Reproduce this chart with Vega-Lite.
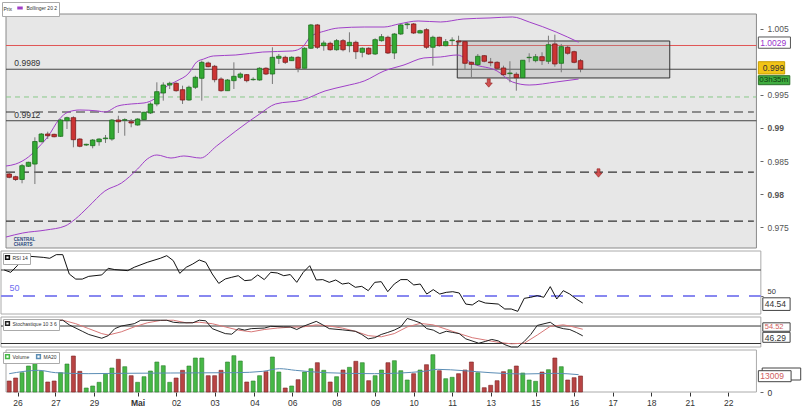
{
"$schema":"https://vega.github.io/schema/vega-lite/v6.json",
"padding":{"left":0,"top":1,"right":0,"bottom":0},
"background":"white",
"spacing":3,
"bounds":"flush",
"config":{
 "font":"Liberation Sans",
 "view":{"stroke":null,"fill":null},
 "axis":{"labelFont":"Liberation Sans","labelFontSize":8.5,"labelColor":"#555","tickColor":"#666","grid":false,"domain":false,"tickSize":3,"labelPadding":4},
 "legend":{"orient":"top-left","offset":2,"direction":"horizontal","labelFont":"Liberation Sans","titleFont":"Liberation Sans","labelFontSize":5,"titleFontSize":5,"titleFontWeight":"normal","labelColor":"#333","titleColor":"#333","symbolType":"square","symbolSize":14,"fillColor":"white","strokeColor":"#aaa","padding":1.5,"rowPadding":0,"columnPadding":4,"labelOffset":2,"titlePadding":3}
},
"datasets":{
 "candles":[
{"i":0,"o":0.98303,"h":0.98329,"l":0.98238,"c":0.98253,"v":8943},
{"i":1,"o":0.98262,"h":0.98277,"l":0.98197,"c":0.98220,"v":11382},
{"i":2,"o":0.98220,"h":0.98454,"l":0.98162,"c":0.98429,"v":15691},
{"i":3,"o":0.98420,"h":0.98489,"l":0.98409,"c":0.98480,"v":21138},
{"i":4,"o":0.98454,"h":0.98859,"l":0.98151,"c":0.98795,"v":26585},
{"i":5,"o":0.98792,"h":0.98924,"l":0.98783,"c":0.98909,"v":16829},
{"i":6,"o":0.98909,"h":0.98944,"l":0.98833,"c":0.98883,"v":8130},
{"i":7,"o":0.98904,"h":0.98914,"l":0.98859,"c":0.98868,"v":8943},
{"i":8,"o":0.98874,"h":0.99136,"l":0.98864,"c":0.99121,"v":15691},
{"i":9,"o":0.99111,"h":0.99171,"l":0.98985,"c":0.99156,"v":22764},
{"i":10,"o":0.99156,"h":0.99177,"l":0.98708,"c":0.98823,"v":29268},
{"i":11,"o":0.98833,"h":0.98844,"l":0.98708,"c":0.98723,"v":16829},
{"i":12,"o":0.98742,"h":0.98762,"l":0.98727,"c":0.98753,"v":3252},
{"i":13,"o":0.98732,"h":0.98833,"l":0.98692,"c":0.98818,"v":4878},
{"i":14,"o":0.98792,"h":0.98844,"l":0.98732,"c":0.98833,"v":7886},
{"i":15,"o":0.98838,"h":0.98894,"l":0.98773,"c":0.98848,"v":14390},
{"i":16,"o":0.98833,"h":0.99136,"l":0.98807,"c":0.99121,"v":19512},
{"i":17,"o":0.99121,"h":0.99186,"l":0.98924,"c":0.99095,"v":26585},
{"i":18,"o":0.99117,"h":0.99147,"l":0.98883,"c":0.99126,"v":20569},
{"i":19,"o":0.99095,"h":0.99136,"l":0.99011,"c":0.99076,"v":13252},
{"i":20,"o":0.99045,"h":0.99147,"l":0.99035,"c":0.99136,"v":7886},
{"i":21,"o":0.99126,"h":0.99247,"l":0.99117,"c":0.99238,"v":12439},
{"i":22,"o":0.99227,"h":0.99389,"l":0.99212,"c":0.99364,"v":17073},
{"i":23,"o":0.99364,"h":0.99692,"l":0.99329,"c":0.99550,"v":24390},
{"i":24,"o":0.99530,"h":0.99692,"l":0.99414,"c":0.99651,"v":21382},
{"i":25,"o":0.99651,"h":0.99701,"l":0.99591,"c":0.99677,"v":7886},
{"i":26,"o":0.99677,"h":0.99692,"l":0.99550,"c":0.99565,"v":11382},
{"i":27,"o":0.99580,"h":0.99641,"l":0.99364,"c":0.99424,"v":17642},
{"i":28,"o":0.99424,"h":0.99641,"l":0.99414,"c":0.99617,"v":21138},
{"i":29,"o":0.99617,"h":0.99792,"l":0.99591,"c":0.99768,"v":27642},
{"i":30,"o":0.99753,"h":1.00020,"l":0.99414,"c":0.99995,"v":27642},
{"i":31,"o":0.99985,"h":1.00005,"l":0.99920,"c":0.99929,"v":13252},
{"i":32,"o":0.99935,"h":0.99955,"l":0.99692,"c":0.99732,"v":13252},
{"i":33,"o":0.99742,"h":0.99768,"l":0.99550,"c":0.99565,"v":17642},
{"i":34,"o":0.99565,"h":0.99742,"l":0.99565,"c":0.99727,"v":24390},
{"i":35,"o":0.99717,"h":0.99995,"l":0.99591,"c":0.99783,"v":29512},
{"i":36,"o":0.99768,"h":0.99844,"l":0.99742,"c":0.99818,"v":25203},
{"i":37,"o":0.99808,"h":0.99818,"l":0.99692,"c":0.99717,"v":8130},
{"i":38,"o":0.99732,"h":0.99768,"l":0.99717,"c":0.99738,"v":8943},
{"i":39,"o":0.99727,"h":0.99920,"l":0.99717,"c":0.99905,"v":13252},
{"i":40,"o":0.99905,"h":0.99920,"l":0.99803,"c":0.99818,"v":16504},
{"i":41,"o":0.99818,"h":1.00223,"l":0.99667,"c":1.00071,"v":28455},
{"i":42,"o":1.00056,"h":1.00121,"l":0.99970,"c":1.00086,"v":16260},
{"i":43,"o":1.00071,"h":1.00095,"l":0.99970,"c":0.99995,"v":3252},
{"i":44,"o":1.00020,"h":1.00086,"l":1.00015,"c":1.00071,"v":4878},
{"i":45,"o":1.00071,"h":1.00086,"l":0.99844,"c":0.99905,"v":10000},
{"i":46,"o":0.99905,"h":1.00223,"l":0.99905,"c":1.00208,"v":16260},
{"i":47,"o":1.00208,"h":1.00576,"l":1.00197,"c":1.00561,"v":18943},
{"i":48,"o":1.00561,"h":1.00576,"l":1.00197,"c":1.00223,"v":23821},
{"i":49,"o":1.00247,"h":1.00323,"l":1.00171,"c":1.00288,"v":17642},
{"i":50,"o":1.00283,"h":1.00308,"l":1.00171,"c":1.00186,"v":8130},
{"i":51,"o":1.00186,"h":1.00348,"l":1.00171,"c":1.00323,"v":12439},
{"i":52,"o":1.00323,"h":1.00348,"l":1.00162,"c":1.00186,"v":17886},
{"i":53,"o":1.00247,"h":1.00450,"l":1.00147,"c":1.00298,"v":20081},
{"i":54,"o":1.00298,"h":1.00323,"l":1.00045,"c":1.00156,"v":24959},
{"i":55,"o":1.00147,"h":1.00223,"l":1.00071,"c":1.00208,"v":23821},
{"i":56,"o":1.00208,"h":1.00223,"l":1.00106,"c":1.00121,"v":9187},
{"i":57,"o":1.00121,"h":1.00359,"l":1.00106,"c":1.00338,"v":13252},
{"i":58,"o":1.00323,"h":1.00424,"l":1.00308,"c":1.00383,"v":17886},
{"i":59,"o":1.00374,"h":1.00398,"l":1.00121,"c":1.00136,"v":23821},
{"i":60,"o":1.00136,"h":1.00439,"l":1.00045,"c":1.00424,"v":25447},
{"i":61,"o":1.00424,"h":1.00576,"l":1.00409,"c":1.00561,"v":17317},
{"i":62,"o":1.00565,"h":1.00591,"l":1.00500,"c":1.00576,"v":9756},
{"i":63,"o":1.00576,"h":1.00591,"l":1.00424,"c":1.00439,"v":14878},
{"i":64,"o":1.00439,"h":1.00489,"l":1.00435,"c":1.00474,"v":17886},
{"i":65,"o":1.00489,"h":1.00511,"l":1.00197,"c":1.00223,"v":22195},
{"i":66,"o":1.00223,"h":1.00398,"l":0.99944,"c":1.00374,"v":30325},
{"i":67,"o":1.00374,"h":1.00383,"l":1.00232,"c":1.00247,"v":17317},
{"i":68,"o":1.00247,"h":1.00348,"l":1.00238,"c":1.00308,"v":10813},
{"i":69,"o":1.00323,"h":1.00374,"l":1.00247,"c":1.00333,"v":11951},
{"i":70,"o":1.00318,"h":1.00398,"l":1.00258,"c":1.00303,"v":14878},
{"i":71,"o":1.00308,"h":1.00318,"l":0.99894,"c":0.99980,"v":17886},
{"i":72,"o":0.99995,"h":1.00005,"l":0.99768,"c":0.99965,"v":24390},
{"i":73,"o":0.99959,"h":1.00121,"l":0.99944,"c":1.00086,"v":15691},
{"i":74,"o":1.00095,"h":1.00106,"l":0.99995,"c":1.00011,"v":3496},
{"i":75,"o":1.00000,"h":1.00061,"l":0.99935,"c":0.99989,"v":5447},
{"i":76,"o":0.99995,"h":1.00011,"l":0.99883,"c":0.99905,"v":9187},
{"i":77,"o":0.99909,"h":0.99944,"l":0.99792,"c":0.99808,"v":16504},
{"i":78,"o":0.99823,"h":1.00011,"l":0.99692,"c":0.99833,"v":18130},
{"i":79,"o":0.99814,"h":0.99844,"l":0.99565,"c":0.99762,"v":21138},
{"i":80,"o":0.99762,"h":1.00030,"l":0.99762,"c":1.00026,"v":15447},
{"i":81,"o":1.00065,"h":1.00132,"l":0.99995,"c":1.00071,"v":9756},
{"i":82,"o":1.00020,"h":1.00121,"l":0.99995,"c":1.00080,"v":8699},
{"i":83,"o":1.00080,"h":1.00147,"l":0.99955,"c":1.00020,"v":16260},
{"i":84,"o":1.00011,"h":1.00398,"l":0.99970,"c":1.00262,"v":18130},
{"i":85,"o":1.00273,"h":1.00414,"l":0.99929,"c":0.99970,"v":27642},
{"i":86,"o":0.99980,"h":1.00273,"l":0.99844,"c":1.00232,"v":20569},
{"i":87,"o":1.00223,"h":1.00247,"l":1.00111,"c":1.00132,"v":9756},
{"i":88,"o":1.00156,"h":1.00171,"l":0.99980,"c":0.99995,"v":11626},
{"i":89,"o":1.00020,"h":1.00045,"l":0.99844,"c":0.99894,"v":13009}
 ],
 "bands":[
{"band":"upper","i":-0.5,"v":0.98424},{"band":"upper","i":1.0,"v":0.98454},{"band":"upper","i":3.0,"v":0.98561},{"band":"upper","i":4.6,"v":0.98712},{"band":"upper","i":6.1,"v":0.98879},{"band":"upper","i":7.7,"v":0.99121},{"band":"upper","i":9.2,"v":0.99242},{"band":"upper","i":11.0,"v":0.99273},{"band":"upper","i":13.8,"v":0.99258},{"band":"upper","i":14.9,"v":0.99242},{"band":"upper","i":16.9,"v":0.99333},{"band":"upper","i":19.0,"v":0.99364},{"band":"upper","i":21.0,"v":0.99379},{"band":"upper","i":22.6,"v":0.99439},{"band":"upper","i":24.6,"v":0.99636},{"band":"upper","i":26.1,"v":0.99712},{"band":"upper","i":28.0,"v":0.99833},{"band":"upper","i":29.2,"v":1.00000},{"band":"upper","i":30.3,"v":1.00045},{"band":"upper","i":31.8,"v":1.00091},{"band":"upper","i":35.3,"v":1.00106},{"band":"upper","i":39.5,"v":1.00151},{"band":"upper","i":44.1,"v":1.00167},{"band":"upper","i":45.7,"v":1.00227},{"band":"upper","i":46.9,"v":1.00379},{"band":"upper","i":49.2,"v":1.00470},{"band":"upper","i":51.3,"v":1.00515},{"band":"upper","i":55.3,"v":1.00530},{"band":"upper","i":58.4,"v":1.00530},{"band":"upper","i":60.7,"v":1.00576},{"band":"upper","i":63.7,"v":1.00621},{"band":"upper","i":67.2,"v":1.00606},{"band":"upper","i":70.7,"v":1.00651},{"band":"upper","i":74.9,"v":1.00667},{"band":"upper","i":78.4,"v":1.00682},{"band":"upper","i":81.0,"v":1.00606},{"band":"upper","i":85.2,"v":1.00454},{"band":"upper","i":88.7,"v":1.00300},
{"band":"lower","i":-0.5,"v":0.97348},{"band":"lower","i":2.1,"v":0.97409},{"band":"lower","i":5.7,"v":0.97454},{"band":"lower","i":8.7,"v":0.97515},{"band":"lower","i":10.3,"v":0.97621},{"band":"lower","i":12.3,"v":0.97803},{"band":"lower","i":14.9,"v":0.98045},{"band":"lower","i":17.5,"v":0.98167},{"band":"lower","i":20.0,"v":0.98379},{"band":"lower","i":21.5,"v":0.98530},{"band":"lower","i":23.0,"v":0.98591},{"band":"lower","i":25.2,"v":0.98545},{"band":"lower","i":27.2,"v":0.98576},{"band":"lower","i":29.8,"v":0.98545},{"band":"lower","i":32.3,"v":0.98727},{"band":"lower","i":35.3,"v":0.98954},{"band":"lower","i":39.0,"v":0.99212},{"band":"lower","i":41.5,"v":0.99364},{"band":"lower","i":45.7,"v":0.99424},{"band":"lower","i":49.2,"v":0.99561},{"band":"lower","i":52.3,"v":0.99636},{"band":"lower","i":55.3,"v":0.99712},{"band":"lower","i":58.4,"v":0.99864},{"band":"lower","i":61.5,"v":0.99955},{"band":"lower","i":64.6,"v":1.00061},{"band":"lower","i":67.2,"v":1.00076},{"band":"lower","i":69.8,"v":1.00106},{"band":"lower","i":72.3,"v":0.99970},{"band":"lower","i":76.0,"v":0.99864},{"band":"lower","i":78.4,"v":0.99697},{"band":"lower","i":81.0,"v":0.99651},{"band":"lower","i":85.2,"v":0.99697},{"band":"lower","i":88.7,"v":0.99742}
 ],
 "rsi":[
{"i":0,"v":70},{"i":1,"v":68.2},{"i":2,"v":73.3},{"i":3,"v":78.5},{"i":4,"v":80.5},{"i":6,"v":79.7},{"i":7,"v":79},{"i":8,"v":81.8},{"i":9,"v":81.8},{"i":10,"v":66.9},{"i":11,"v":63},{"i":12,"v":63},{"i":13,"v":65.1},{"i":15,"v":66.2},{"i":16,"v":71.3},{"i":17,"v":70.3},{"i":19,"v":69.5},{"i":20,"v":72.1},{"i":22,"v":75.9},{"i":24,"v":79},{"i":25,"v":81},{"i":26,"v":77.2},{"i":27,"v":67.4},{"i":28,"v":72.1},{"i":29,"v":74.6},{"i":30,"v":77.7},{"i":31,"v":75.9},{"i":32,"v":66.9},{"i":33,"v":59.7},{"i":34,"v":63.1},{"i":35,"v":64.4},{"i":36,"v":65.6},{"i":37,"v":61.8},{"i":38,"v":62.3},{"i":39,"v":66.2},{"i":40,"v":62.6},{"i":41,"v":68.2},{"i":42,"v":67.7},{"i":43,"v":65.6},{"i":44,"v":66.5},{"i":45,"v":60.5},{"i":46,"v":68.2},{"i":47,"v":73.3},{"i":48,"v":62.3},{"i":49,"v":62.6},{"i":50,"v":60.5},{"i":51,"v":62.3},{"i":52,"v":59.2},{"i":53,"v":60},{"i":54,"v":56.7},{"i":55,"v":57.4},{"i":56,"v":54.1},{"i":57,"v":60.5},{"i":58,"v":61},{"i":59,"v":53.3},{"i":60,"v":59.2},{"i":61,"v":62.6},{"i":62,"v":62.6},{"i":63,"v":58.5},{"i":64,"v":59.2},{"i":65,"v":51.5},{"i":66,"v":54.9},{"i":67,"v":51.5},{"i":68,"v":52.8},{"i":69,"v":53.3},{"i":70,"v":52.3},{"i":71,"v":43.8},{"i":72,"v":43.1},{"i":73,"v":46.4},{"i":74,"v":44.6},{"i":76,"v":43.8},{"i":77,"v":40},{"i":78,"v":40},{"i":79,"v":38.2},{"i":80,"v":48.2},{"i":81,"v":49},{"i":82,"v":50.3},{"i":83,"v":49},{"i":84,"v":57.2},{"i":85,"v":47.7},{"i":86,"v":54.1},{"i":87,"v":51.5},{"i":88,"v":47.7},{"i":89,"v":44.54}
 ],
 "stochK":[
{"i":0,"v":82},{"i":2,"v":84},{"i":5,"v":100},{"i":7,"v":100},{"i":9,"v":100},{"i":10,"v":84},{"i":12,"v":62},{"i":13,"v":51},{"i":15,"v":38},{"i":16,"v":47},{"i":17,"v":71},{"i":18,"v":80},{"i":20,"v":88},{"i":21,"v":100},{"i":24,"v":100},{"i":25,"v":100},{"i":26,"v":93},{"i":27,"v":91},{"i":29,"v":91},{"i":30,"v":100},{"i":31,"v":98},{"i":32,"v":71},{"i":34,"v":54},{"i":35,"v":52},{"i":36,"v":71},{"i":37,"v":66},{"i":38,"v":71},{"i":40,"v":73},{"i":41,"v":79},{"i":43,"v":77},{"i":44,"v":77},{"i":45,"v":68},{"i":46,"v":79},{"i":48,"v":96},{"i":49,"v":84},{"i":50,"v":71},{"i":52,"v":67},{"i":54,"v":62},{"i":55,"v":51},{"i":56,"v":36},{"i":57,"v":40},{"i":58,"v":51},{"i":59,"v":58},{"i":60,"v":66},{"i":61,"v":77},{"i":62,"v":106},{"i":63,"v":99},{"i":64,"v":91},{"i":65,"v":71},{"i":66,"v":66},{"i":67,"v":54},{"i":68,"v":62},{"i":69,"v":58},{"i":70,"v":54},{"i":71,"v":36},{"i":73,"v":21},{"i":74,"v":27},{"i":75,"v":34},{"i":76,"v":29},{"i":77,"v":16},{"i":78,"v":8},{"i":79,"v":8},{"i":80,"v":27},{"i":81,"v":51},{"i":82,"v":82},{"i":84,"v":93},{"i":85,"v":77},{"i":86,"v":71},{"i":87,"v":68},{"i":88,"v":58},{"i":89,"v":46.29}
 ],
 "stochD":[
{"i":0,"v":88},{"i":5,"v":100},{"i":9,"v":100},{"i":11,"v":88},{"i":13,"v":71},{"i":15,"v":54},{"i":16,"v":49},{"i":18,"v":60},{"i":20,"v":77},{"i":22,"v":91},{"i":24,"v":99},{"i":26,"v":100},{"i":28,"v":91},{"i":30,"v":93},{"i":32,"v":88},{"i":34,"v":77},{"i":36,"v":66},{"i":38,"v":60},{"i":40,"v":68},{"i":42,"v":73},{"i":44,"v":76},{"i":46,"v":77},{"i":48,"v":84},{"i":50,"v":80},{"i":52,"v":73},{"i":54,"v":62},{"i":56,"v":47},{"i":58,"v":43},{"i":60,"v":54},{"i":62,"v":77},{"i":64,"v":89},{"i":66,"v":84},{"i":68,"v":69},{"i":70,"v":54},{"i":72,"v":40},{"i":74,"v":32},{"i":76,"v":24},{"i":78,"v":19},{"i":80,"v":21},{"i":82,"v":49},{"i":84,"v":79},{"i":86,"v":84},{"i":87,"v":80},{"i":89,"v":69}
 ],
 "ma":[
{"i":0,"v":14905},{"i":4.6,"v":17614},{"i":7.2,"v":15718},{"i":12.3,"v":14905},{"i":17.4,"v":15176},{"i":25.1,"v":15447},{"i":35.4,"v":15718},{"i":39.5,"v":16802},{"i":42.1,"v":18970},{"i":44.6,"v":17614},{"i":49.2,"v":15718},{"i":56.9,"v":14905},{"i":64.6,"v":16802},{"i":66.7,"v":18428},{"i":70.8,"v":17344},{"i":74.9,"v":15718},{"i":80,"v":14634},{"i":85.1,"v":15176},{"i":88.7,"v":14092}
 ]
},
"vconcat":[
{
 "width":806,"height":234,
 "layer":[
  {"data":{"values":[{}]},"mark":{"type":"rect","fill":"#e7e7e7","stroke":"#8a8a8a","strokeWidth":1},
   "encoding":{"x":{"datum":-0.5,"type":"quantitative","scale":{"domain":[-0.5,123.5],"nice":false,"zero":false},"axis":null},"x2":{"datum":116.4},
     "y":{"datum":0.97182,"type":"quantitative","scale":{"domain":[0.97182,1.00727],"nice":false,"zero":false},
       "axis":{"orient":"right","offset":-47,"title":null,"values":[0.975,0.98,0.985,0.99,0.995,1.005],"format":".3~f",
         "labelFontWeight":{"condition":{"test":"datum.value == 0.99 || datum.value == 0.98","value":"bold"},"value":"normal"}}},
     "y2":{"datum":1.00727}}},
  {"data":{"values":[{"p":1.0025}]},"mark":{"type":"rule","color":"#e05555","strokeWidth":1},
   "encoding":{"x":{"datum":-0.5,"type":"quantitative","scale":{"domain":[-0.5,123.5],"nice":false,"zero":false},"axis":null},"x2":{"datum":116.4},
     "y":{"field":"p","type":"quantitative","scale":{"domain":[0.97182,1.00727],"nice":false,"zero":false}}}},
  {"data":{"values":[{"p":0.9989},{"p":0.9911}]},"mark":{"type":"rule","color":"#444","strokeWidth":1},
   "encoding":{"x":{"datum":-0.5,"type":"quantitative","scale":{"domain":[-0.5,123.5],"nice":false,"zero":false},"axis":null},"x2":{"datum":116.4},
     "y":{"field":"p","type":"quantitative","scale":{"domain":[0.97182,1.00727],"nice":false,"zero":false}}}},
  {"data":{"values":[{"p":0.9947}]},"mark":{"type":"rule","color":"#88c888","strokeWidth":1,"strokeDash":[5,4]},
   "encoding":{"x":{"datum":-0.5,"type":"quantitative","scale":{"domain":[-0.5,123.5],"nice":false,"zero":false},"axis":null},"x2":{"datum":116.4},
     "y":{"field":"p","type":"quantitative","scale":{"domain":[0.97182,1.00727],"nice":false,"zero":false}}}},
  {"data":{"values":[{"p":0.99242},{"p":0.9833},{"p":0.9759}]},"mark":{"type":"rule","color":"#333","strokeWidth":1.2,"strokeDash":[9,5]},
   "encoding":{"x":{"datum":-0.5,"type":"quantitative","scale":{"domain":[-0.5,123.5],"nice":false,"zero":false},"axis":null},"x2":{"datum":116},
     "y":{"field":"p","type":"quantitative","scale":{"domain":[0.97182,1.00727],"nice":false,"zero":false}}}},
  {"data":{"values":[{"a":69.8,"b":102.9,"p1":1.00318,"p2":0.99758}]},"mark":{"type":"rect","fill":"#9a9a9a","fillOpacity":0.3,"stroke":"#333","strokeWidth":1},
   "encoding":{"x":{"field":"a","type":"quantitative","scale":{"domain":[-0.5,123.5],"nice":false,"zero":false},"axis":null},"x2":{"field":"b"},
     "y":{"field":"p1","type":"quantitative","scale":{"domain":[0.97182,1.00727],"nice":false,"zero":false}},"y2":{"field":"p2"}}},
  {"data":{"name":"bands"},"mark":{"type":"line","strokeWidth":1,"interpolate":"monotone"},
   "encoding":{"x":{"field":"i","type":"quantitative","scale":{"domain":[-0.5,123.5],"nice":false,"zero":false},"axis":null},
     "y":{"field":"v","type":"quantitative","scale":{"domain":[0.97182,1.00727],"nice":false,"zero":false}},
     "detail":{"field":"band"},
     "color":{"datum":"Bollinger 20 2","type":"nominal","scale":{"range":["#a040c8"]},
       "legend":{"orient":"none","legendX":1,"legendY":-12,"title":"Prix","titleOrient":"left","symbolType":"stroke","symbolStrokeWidth":3,"symbolSize":30}}}},
  {"data":{"name":"candles"},"mark":{"type":"rule","color":"#777","strokeWidth":1},
   "encoding":{"x":{"field":"i","type":"quantitative","scale":{"domain":[-0.5,123.5],"nice":false,"zero":false},"axis":null},
     "y":{"field":"l","type":"quantitative","scale":{"domain":[0.97182,1.00727],"nice":false,"zero":false}},"y2":{"field":"h"}}},
  {"data":{"name":"candles"},"mark":{"type":"bar","size":4.5,"strokeWidth":0.8},
   "encoding":{"x":{"field":"i","type":"quantitative","scale":{"domain":[-0.5,123.5],"nice":false,"zero":false},"axis":null},
     "y":{"field":"o","type":"quantitative","scale":{"domain":[0.97182,1.00727],"nice":false,"zero":false}},"y2":{"field":"c"},
     "fill":{"condition":{"test":"datum.c >= datum.o","value":"#33aa33"},"value":"#cc3333"},
     "stroke":{"condition":{"test":"datum.c >= datum.o","value":"#1e701e"},"value":"#7a1a1a"}}},
  {"data":{"values":[{"i":74.7,"p":0.99682},{"i":91.8,"p":0.98318}]},
   "mark":{"type":"point","shape":"M-0.35,-1L0.35,-1L0.35,0L0.85,0L0,1L-0.85,0L-0.35,0Z","size":70,"filled":true,"fill":"#d05050","stroke":"#902020","strokeWidth":0.6,"opacity":1},
   "encoding":{"x":{"field":"i","type":"quantitative","scale":{"domain":[-0.5,123.5],"nice":false,"zero":false},"axis":null},
     "y":{"field":"p","type":"quantitative","scale":{"domain":[0.97182,1.00727],"nice":false,"zero":false}}}},
  {"data":{"values":[{"p":0.9989,"t":"0.9989"},{"p":0.9911,"t":"0.9912"}]},
   "mark":{"type":"text","align":"left","baseline":"bottom","dy":-1,"fontSize":8.5,"color":"#333"},
   "encoding":{"x":{"datum":0.8,"type":"quantitative","scale":{"domain":[-0.5,123.5],"nice":false,"zero":false},"axis":null},
     "y":{"field":"p","type":"quantitative","scale":{"domain":[0.97182,1.00727],"nice":false,"zero":false}},"text":{"field":"t"}}},
  {"data":{"values":[{}]},"mark":{"type":"text","align":"left","baseline":"top","fontSize":4.5,"fontWeight":"bold","color":"#24457a","lineHeight":5},
   "encoding":{"x":{"datum":0.7,"type":"quantitative","scale":{"domain":[-0.5,123.5],"nice":false,"zero":false},"axis":null},
     "y":{"datum":0.97345,"type":"quantitative","scale":{"domain":[0.97182,1.00727],"nice":false,"zero":false}},
     "text":{"value":["CENTRAL","CHARTS"]}}},
  {"data":{"values":[{}]},"mark":{"type":"rect","fill":"white","stroke":"#555","strokeWidth":1},
   "encoding":{"x":{"datum":116.7,"type":"quantitative","scale":{"domain":[-0.5,123.5],"nice":false,"zero":false},"axis":null},"x2":{"datum":121.7},
     "y":{"datum":1.00379,"type":"quantitative","scale":{"domain":[0.97182,1.00727],"nice":false,"zero":false}},"y2":{"datum":1.00208}}},
  {"data":{"values":[{}]},"mark":{"type":"text","align":"left","baseline":"middle","fontSize":8.5,"color":"#9933cc"},
   "encoding":{"x":{"datum":117.0,"type":"quantitative","scale":{"domain":[-0.5,123.5],"nice":false,"zero":false},"axis":null},
     "y":{"datum":1.00293,"type":"quantitative","scale":{"domain":[0.97182,1.00727],"nice":false,"zero":false}},"text":{"value":"1.0029"}}},
  {"data":{"values":[{}]},"mark":{"type":"rect","fill":"#f2c417","stroke":"#c79d00","strokeWidth":1},
   "encoding":{"x":{"datum":116.7,"type":"quantitative","scale":{"domain":[-0.5,123.5],"nice":false,"zero":false},"axis":null},"x2":{"datum":120.8},
     "y":{"datum":1.00004,"type":"quantitative","scale":{"domain":[0.97182,1.00727],"nice":false,"zero":false}},"y2":{"datum":0.99818}}},
  {"data":{"values":[{}]},"mark":{"type":"text","align":"left","baseline":"middle","fontSize":8.5,"color":"#333"},
   "encoding":{"x":{"datum":117.4,"type":"quantitative","scale":{"domain":[-0.5,123.5],"nice":false,"zero":false},"axis":null},
     "y":{"datum":0.99911,"type":"quantitative","scale":{"domain":[0.97182,1.00727],"nice":false,"zero":false}},"text":{"value":"0.999"}}},
  {"data":{"values":[{}]},"mark":{"type":"rect","fill":"#40ad40","stroke":"#2a6e2a","strokeWidth":1},
   "encoding":{"x":{"datum":116.7,"type":"quantitative","scale":{"domain":[-0.5,123.5],"nice":false,"zero":false},"axis":null},"x2":{"datum":121.6},
     "y":{"datum":0.99792,"type":"quantitative","scale":{"domain":[0.97182,1.00727],"nice":false,"zero":false}},"y2":{"datum":0.99656}}},
  {"data":{"values":[{}]},"mark":{"type":"text","align":"left","baseline":"middle","fontSize":8,"color":"#0d3a0d"},
   "encoding":{"x":{"datum":116.85,"type":"quantitative","scale":{"domain":[-0.5,123.5],"nice":false,"zero":false},"axis":null},
     "y":{"datum":0.99724,"type":"quantitative","scale":{"domain":[0.97182,1.00727],"nice":false,"zero":false}},"text":{"value":"03h35m"}}}
 ]
},
{
 "width":806,"height":63,
 "layer":[
  {"data":{"values":[{}]},"mark":{"type":"rect","fill":"white","stroke":"#aaa","strokeWidth":1},
   "encoding":{"x":{"datum":-0.5,"type":"quantitative","scale":{"domain":[-0.5,123.5],"nice":false,"zero":false},"axis":null},"x2":{"datum":116.4},
     "y":{"datum":36.15,"type":"quantitative","scale":{"domain":[36.15,84.6],"nice":false,"zero":false},
       "axis":{"orient":"right","offset":-47,"title":null,"values":[50],"labelColor":"#333","labelFontSize":7.5,"labelBaseline":"bottom"}},"y2":{"datum":84.6}}},
  {"data":{"values":[{"v":70}]},"mark":{"type":"rule","color":"#333","strokeWidth":1},
   "encoding":{"x":{"datum":-0.5,"type":"quantitative","scale":{"domain":[-0.5,123.5],"nice":false,"zero":false},"axis":null},"x2":{"datum":116.4},
     "y":{"field":"v","type":"quantitative","scale":{"domain":[36.15,84.6],"nice":false,"zero":false}}}},
  {"data":{"values":[{"v":50}]},"mark":{"type":"rule","color":"#8888f0","strokeWidth":2,"strokeDash":[12,10]},
   "encoding":{"x":{"datum":-0.5,"type":"quantitative","scale":{"domain":[-0.5,123.5],"nice":false,"zero":false},"axis":null},"x2":{"datum":116.4},
     "y":{"field":"v","type":"quantitative","scale":{"domain":[36.15,84.6],"nice":false,"zero":false}}}},
  {"data":{"values":[{"v":50}]},"mark":{"type":"text","align":"left","baseline":"bottom","dy":-3,"fontSize":9,"color":"#6f6ff0"},
   "encoding":{"x":{"datum":0.8,"type":"quantitative","scale":{"domain":[-0.5,123.5],"nice":false,"zero":false},"axis":null},
     "y":{"field":"v","type":"quantitative","scale":{"domain":[36.15,84.6],"nice":false,"zero":false}},"text":{"value":"50"}}},
  {"data":{"name":"rsi"},"mark":{"type":"line","strokeWidth":1},
   "encoding":{"x":{"field":"i","type":"quantitative","scale":{"domain":[-0.5,123.5],"nice":false,"zero":false},"axis":null},
     "y":{"field":"v","type":"quantitative","scale":{"domain":[36.15,84.6],"nice":false,"zero":false}},
     "color":{"datum":"RSI 14","type":"nominal","scale":{"range":["#111"]},"legend":{"title":null}}}},
  {"data":{"values":[{}]},"mark":{"type":"rect","fill":"white","stroke":"#444","strokeWidth":1},
   "encoding":{"x":{"datum":116.7,"type":"quantitative","scale":{"domain":[-0.5,123.5],"nice":false,"zero":false},"axis":null},"x2":{"datum":120.9},
     "y":{"datum":48.6,"type":"quantitative","scale":{"domain":[36.15,84.6],"nice":false,"zero":false}},"y2":{"datum":38.9}}},
  {"data":{"values":[{}]},"mark":{"type":"text","align":"left","baseline":"middle","fontSize":8.5,"color":"#333"},
   "encoding":{"x":{"datum":117.0,"type":"quantitative","scale":{"domain":[-0.5,123.5],"nice":false,"zero":false},"axis":null},
     "y":{"datum":43.7,"type":"quantitative","scale":{"domain":[36.15,84.6],"nice":false,"zero":false}},"text":{"value":"44.54"}}}
 ]
},
{
 "width":806,"height":30,
 "layer":[
  {"data":{"values":[{}]},"mark":{"type":"rect","fill":"white","stroke":"#aaa","strokeWidth":1},
   "encoding":{"x":{"datum":-0.5,"type":"quantitative","scale":{"domain":[-0.5,123.5],"nice":false,"zero":false},"axis":null},"x2":{"datum":116.4},
     "y":{"datum":8,"type":"quantitative","scale":{"domain":[8,111],"nice":false,"zero":false},"axis":null},"y2":{"datum":111}}},
  {"data":{"values":[{"v":80},{"v":20}]},"mark":{"type":"rule","color":"#333","strokeWidth":1},
   "encoding":{"x":{"datum":-0.5,"type":"quantitative","scale":{"domain":[-0.5,123.5],"nice":false,"zero":false},"axis":null},"x2":{"datum":116.4},
     "y":{"field":"v","type":"quantitative","scale":{"domain":[8,111],"nice":false,"zero":false},"axis":null}}},
  {"data":{"name":"stochD"},"mark":{"type":"line","strokeWidth":1,"color":"#d87878"},
   "encoding":{"x":{"field":"i","type":"quantitative","scale":{"domain":[-0.5,123.5],"nice":false,"zero":false},"axis":null},
     "y":{"field":"v","type":"quantitative","scale":{"domain":[8,111],"nice":false,"zero":false},"axis":null}}},
  {"data":{"name":"stochK"},"mark":{"type":"line","strokeWidth":1},
   "encoding":{"x":{"field":"i","type":"quantitative","scale":{"domain":[-0.5,123.5],"nice":false,"zero":false},"axis":null},
     "y":{"field":"v","type":"quantitative","scale":{"domain":[8,111],"nice":false,"zero":false},"axis":null},
     "color":{"datum":"Stochastique 10 3 6","type":"nominal","scale":{"range":["#222"]},"legend":{"title":null}}}},
  {"data":{"values":[{}]},"mark":{"type":"rect","fill":"white","stroke":"#444","strokeWidth":1},
   "encoding":{"x":{"datum":116.7,"type":"quantitative","scale":{"domain":[-0.5,123.5],"nice":false,"zero":false},"axis":null},"x2":{"datum":120.9},
     "y":{"datum":91,"type":"quantitative","scale":{"domain":[8,111],"nice":false,"zero":false},"axis":null},"y2":{"datum":62}}},
  {"data":{"values":[{}]},"mark":{"type":"text","align":"left","baseline":"middle","fontSize":7.5,"color":"#d06060"},
   "encoding":{"x":{"datum":117.0,"type":"quantitative","scale":{"domain":[-0.5,123.5],"nice":false,"zero":false},"axis":null},
     "y":{"datum":78,"type":"quantitative","scale":{"domain":[8,111],"nice":false,"zero":false},"axis":null},"text":{"value":"54.52"}}},
  {"data":{"values":[{}]},"mark":{"type":"rect","fill":"white","stroke":"#444","strokeWidth":1},
   "encoding":{"x":{"datum":116.7,"type":"quantitative","scale":{"domain":[-0.5,123.5],"nice":false,"zero":false},"axis":null},"x2":{"datum":120.9},
     "y":{"datum":58.4,"type":"quantitative","scale":{"domain":[8,111],"nice":false,"zero":false},"axis":null},"y2":{"datum":24.1}}},
  {"data":{"values":[{}]},"mark":{"type":"text","align":"left","baseline":"middle","fontSize":8.5,"color":"#333"},
   "encoding":{"x":{"datum":117.0,"type":"quantitative","scale":{"domain":[-0.5,123.5],"nice":false,"zero":false},"axis":null},
     "y":{"datum":40.5,"type":"quantitative","scale":{"domain":[8,111],"nice":false,"zero":false},"axis":null},"text":{"value":"46.29"}}}
 ]
},
{
 "width":806,"height":58,
 "layer":[
  {"data":{"values":[{}]},"mark":{"type":"rect","fill":"white","stroke":"#aaa","strokeWidth":1},
   "encoding":{"x":{"datum":-0.5,"type":"quantitative","scale":{"domain":[-0.5,123.5],"nice":false,"zero":false},
      "axis":{"orient":"bottom","offset":-16,"title":null,"values":[1.3,7.2,13.2,20,26,32,38.2,44.1,51,57,63,69,75,82,88,94,100,106,112],
        "labelExpr":"['26','27','29','Mai','02','03','04','06','08','09','10','11','13','15','16','17','18','21','22'][indexof([1.3,7.2,13.2,20,26,32,38.2,44.1,51,57,63,69,75,82,88,94,100,106,112], datum.value)]",
        "labelFontWeight":{"condition":{"test":"datum.value == 20","value":"bold"},"value":"normal"},
        "labelOverlap":false,"labelFlush":false,"tickSize":4,"labelPadding":2,"tickColor":"#333","labelColor":"#333","labelFontSize":8.5}},
     "x2":{"datum":116.4},
     "y":{"datum":0,"type":"quantitative","scale":{"domain":[-13008,34146],"nice":false,"zero":false},
      "axis":{"orient":"right","offset":-47,"title":null,"values":[0],"labelColor":"#333"}},
     "y2":{"datum":34146}}},
  {"data":{"name":"candles"},"mark":{"type":"bar","size":4,"strokeWidth":0.6},
   "encoding":{"x":{"field":"i","type":"quantitative","scale":{"domain":[-0.5,123.5],"nice":false,"zero":false}},
     "y":{"field":"v","type":"quantitative","scale":{"domain":[-13008,34146],"nice":false,"zero":false}},
     "y2":{"datum":0},
     "fill":{"condition":{"test":"datum.c >= datum.o","value":"#46b846"},"value":"#b84444"},
     "stroke":{"condition":{"test":"datum.c >= datum.o","value":"#2b7d2b"},"value":"#7a2222"}}},
  {"data":{"name":"ma"},"mark":{"type":"line","strokeWidth":1,"interpolate":"monotone"},
   "encoding":{"x":{"field":"i","type":"quantitative","scale":{"domain":[-0.5,123.5],"nice":false,"zero":false}},
     "y":{"field":"v","type":"quantitative","scale":{"domain":[-13008,34146],"nice":false,"zero":false}},
     "color":{"datum":"MA20","type":"nominal","scale":{"domain":["Volume","MA20"],"range":["#46b846","#5b8db5"]},"legend":{"title":null}}}},
  {"data":{"values":[{}]},"mark":{"type":"rect","fill":"white","stroke":"#444","strokeWidth":1},
   "encoding":{"x":{"datum":117.3,"type":"quantitative","scale":{"domain":[-0.5,123.5],"nice":false,"zero":false}},"x2":{"datum":123.3},
     "y":{"datum":19512,"type":"quantitative","scale":{"domain":[-13008,34146],"nice":false,"zero":false}},"y2":{"datum":9756}}},
  {"data":{"values":[{}]},"mark":{"type":"rect","fill":"white","stroke":"#444","strokeWidth":1},
   "encoding":{"x":{"datum":116.7,"type":"quantitative","scale":{"domain":[-0.5,123.5],"nice":false,"zero":false}},"x2":{"datum":121.8},
     "y":{"datum":17317,"type":"quantitative","scale":{"domain":[-13008,34146],"nice":false,"zero":false}},"y2":{"datum":8374}}},
  {"data":{"values":[{}]},"mark":{"type":"text","align":"left","baseline":"middle","fontSize":8.5,"color":"#d06060"},
   "encoding":{"x":{"datum":117.0,"type":"quantitative","scale":{"domain":[-0.5,123.5],"nice":false,"zero":false}},
     "y":{"datum":12845,"type":"quantitative","scale":{"domain":[-13008,34146],"nice":false,"zero":false}},"text":{"value":"13009"}}}
 ]
}
],
"resolve":{"scale":{"color":"independent"},"legend":{"color":"independent"}}
}
